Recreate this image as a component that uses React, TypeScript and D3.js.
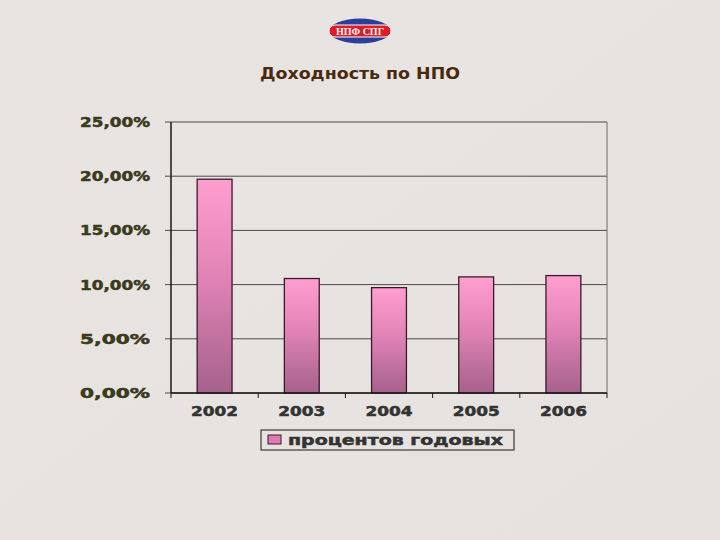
import React from "react";
import * as d3 from "d3";

const categories = ["2002", "2003", "2004", "2005", "2006"];
const values = [19.72, 10.56, 9.72, 10.71, 10.83];
const yTicks = [0, 5, 10, 15, 20, 25];
const seriesName = "процентов годовых";
const title = "Доходность по НПО";

const W = 720, H = 540;
const plot = { left: 171, right: 607, top: 122, bottom: 393 };

export default function App() {
  const x = d3.scaleBand<string>().domain(categories).range([plot.left, plot.right]).paddingInner(0.6).paddingOuter(0.3);
  const band = d3.scaleBand<string>().domain(categories).range([plot.left, plot.right]).padding(0);
  const y = d3.scaleLinear().domain([0, 25]).range([plot.bottom, plot.top]);
  const fmt = (v: number) => v.toFixed(2).replace(".", ",") + "%";
  const labelFont = "'DejaVu Sans', 'Liberation Sans', sans-serif";
  const boundaries = categories.map((c) => band(c)!).concat([plot.right]);

  return (
    <div style={{ position: "absolute", left: 0, top: 0 }}>
      <svg width={W} height={H} style={{ display: "block" }}>
        <defs>
          <linearGradient id="barGrad" x1="0" y1="0" x2="0" y2="1">
            <stop offset="0" stopColor="#ff9fd0" />
            <stop offset="0.45" stopColor="#e283b6" />
            <stop offset="1" stopColor="#a5628b" />
          </linearGradient>
          <linearGradient id="bgGrad" x1="0" y1="0" x2="1" y2="1">
            <stop offset="0" stopColor="#e7e4e1" />
            <stop offset="1" stopColor="#e5e2df" />
          </linearGradient>
        </defs>
        <rect x={0} y={0} width={W} height={H} fill="url(#bgGrad)" />

        {/* logo */}
        <g>
          <ellipse cx={360} cy={31} rx={31} ry={12.5} fill="#2a3f9a" />
          <rect x={329} y={25} width={62} height={12} rx={6} fill="#e01b24" stroke="#ffffff" strokeWidth={1} />
          <text x={360} y={35} textAnchor="middle" fill="#ffffff" fontFamily="'Liberation Serif', serif" fontWeight="bold" fontSize={10}>
            НПФ СПГ
          </text>
        </g>

        <text x={360} y={79} textAnchor="middle" fill="#4a2a0c" fontFamily={labelFont} fontWeight="bold" fontSize={16}
          textLength={200} lengthAdjust="spacingAndGlyphs">
          {title}
        </text>

        {/* gridlines */}
        {yTicks.map((t) => (
          <line key={"g" + t} x1={plot.left - 6} x2={plot.right} y1={y(t)} y2={y(t)} stroke="#4a4a4a" strokeWidth={1} />
        ))}
        <line x1={plot.right} x2={plot.right} y1={plot.top} y2={plot.bottom} stroke="#6a6a6a" strokeWidth={1} />
        <line x1={plot.left} x2={plot.left} y1={plot.top} y2={plot.bottom} stroke="#1a1a1a" strokeWidth={1.5} />

        {/* bars */}
        {categories.map((c, i) => (
          <rect key={c} x={x(c)} y={y(values[i])} width={x.bandwidth()} height={plot.bottom - y(values[i])}
            fill="url(#barGrad)" stroke="#3a1a2a" strokeWidth={1.3} />
        ))}

        <line x1={plot.left} x2={plot.right} y1={plot.bottom} y2={plot.bottom} stroke="#1a1a1a" strokeWidth={1.5} />
        {boundaries.map((b, i) => (
          <line key={"t" + i} x1={b} x2={b} y1={plot.bottom} y2={plot.bottom + 5} stroke="#1a1a1a" strokeWidth={1} />
        ))}

        {/* y labels */}
        {yTicks.map((t) => (
          <text key={"yl" + t} x={150} y={y(t) + 5} textAnchor="end" fill="#3a3a1c" stroke="#3a3a1c" strokeWidth={0.5}
            fontFamily={labelFont} fontWeight="bold" fontSize={13.5}
            textLength={70} lengthAdjust="spacingAndGlyphs">
            {fmt(t)}
          </text>
        ))}
        {/* x labels */}
        {categories.map((c) => (
          <text key={"xl" + c} x={band(c)! + band.bandwidth() / 2} y={416} textAnchor="middle" fill="#333333" stroke="#333333" strokeWidth={0.5}
            fontFamily={labelFont} fontWeight="bold" fontSize={13.5}
            textLength={47} lengthAdjust="spacingAndGlyphs">
            {c}
          </text>
        ))}

        {/* legend */}
        <rect x={261} y={430} width={253} height={20} fill="none" stroke="#3a3a3a" strokeWidth={1.2} />
        <rect x={268} y={435} width={13} height={9} fill="#e07ab0" stroke="#3a1a2a" strokeWidth={1} />
        <text x={288} y={445} fill="#333333" stroke="#333333" strokeWidth={0.5}
          fontFamily={labelFont} fontWeight="bold" fontSize={13.5}
          textLength={215} lengthAdjust="spacingAndGlyphs">
          {seriesName}
        </text>
      </svg>
    </div>
  );
}
